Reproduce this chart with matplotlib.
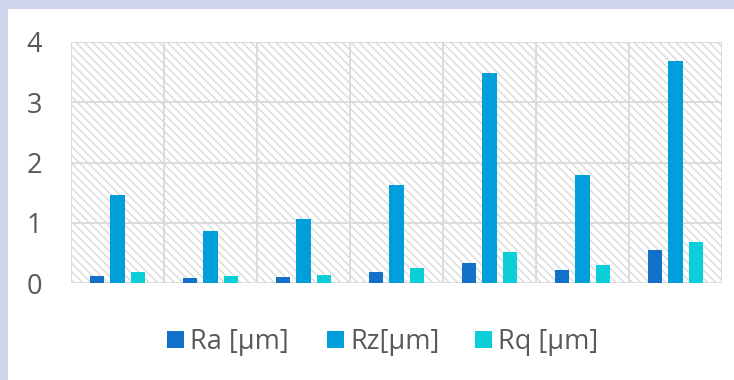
import matplotlib
matplotlib.use("Agg")
import matplotlib.pyplot as plt
from matplotlib.patches import Rectangle, Patch
import numpy as np

plt.rcParams['font.family'] = ['Open Sans', 'DejaVu Sans']
plt.rcParams['hatch.linewidth'] = 1.0
plt.rcParams['hatch.color'] = '#D9D9D9'

categories = ['1', '2', '3', '4', '5', '6', '7']
series_names = ['Ra [μm]', 'Rz[μm]', 'Rq [μm]']
ra = [0.12, 0.09, 0.10, 0.18, 0.33, 0.21, 0.54]
rz = [1.46, 0.86, 1.07, 1.62, 3.48, 1.79, 3.68]
rq = [0.18, 0.12, 0.14, 0.25, 0.52, 0.30, 0.68]
yticks = [0, 1, 2, 3, 4]
colors = ['#1170C8', '#009FD9', '#0ACFD8']

W, H = 734, 380
fig = plt.figure(figsize=(W / 100, H / 100), dpi=100)
fig.patch.set_facecolor('#CDD6EA')
bg = Rectangle((8 / W, 0), 1, 1 - 9 / H, transform=fig.transFigure,
               facecolor='white', edgecolor='none', zorder=-10)
fig.patches.append(bg)

ax = fig.add_axes([71 / W, 1 - 283 / H, (722 - 71) / W, (283 - 42) / H])
ax.set_zorder(1)
ax.set_facecolor('white')
ax.add_patch(Rectangle((0, 0), 1, 1, transform=ax.transAxes, facecolor='white',
                       edgecolor='#D9D9D9', hatch='\\\\\\\\', linewidth=0, zorder=0))

x = np.arange(len(categories))
bw = 0.155
step = 0.218
for i, (vals, c, name) in enumerate(zip([ra, rz, rq], colors, series_names)):
    ax.bar(x + (i - 1) * step, vals, width=bw, color=c, zorder=3, label=name)

ax.set_xlim(-0.5, len(categories) - 0.5)
ax.set_ylim(0, 4)
for v in yticks:
    ax.axhline(v, color='#D9D9D9', lw=1.3, zorder=1)
for b in np.arange(-0.5, len(categories), 1.0):
    ax.axvline(b, color='#D9D9D9', lw=1.3, zorder=1)
for s in ax.spines.values():
    s.set_visible(False)
ax.set_xticks([])
ax.set_yticks(yticks)
ax.set_yticklabels([str(v) for v in yticks], fontsize=19.5, color='#595959')
ax.tick_params(axis='y', length=0, pad=21)

legend_x = [167, 327, 475]
for c, name, lx in zip(colors, series_names, legend_x):
    fig.legend([Patch(facecolor=c, edgecolor='none')], [name], loc='center left',
               bbox_to_anchor=(lx / W, 1 - 342 / H), frameon=False, fontsize=19.5,
               labelcolor='#595959', handlelength=0.63, handleheight=0.63,
               handletextpad=0.22, borderpad=0, borderaxespad=0)

fig.savefig('out.png', dpi=100, facecolor=fig.get_facecolor())
